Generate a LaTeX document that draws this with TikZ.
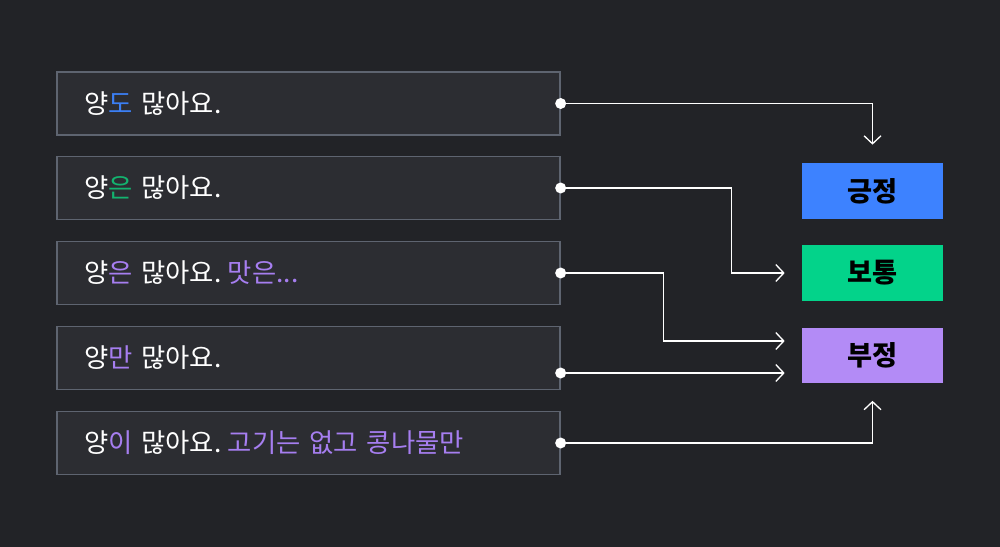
\documentclass[tikz,border=0pt]{standalone}
\usepackage{fontspec}
\setmainfont{Noto Sans CJK KR}
\usetikzlibrary{arrows.meta,positioning}
\definecolor{bg}{HTML}{222327}
\definecolor{boxfill}{HTML}{2C2D32}
\definecolor{boxline}{HTML}{5E6470}
\definecolor{posblue}{HTML}{3D82FF}
\definecolor{neugreen}{HTML}{03D38A}
\definecolor{negpurple}{HTML}{B38BF6}
\definecolor{hlblue}{HTML}{3B7FF5}
\definecolor{hlgreen}{HTML}{13B36F}
\definecolor{hlpurple}{HTML}{A67EF0}
\begin{document}
\begin{tikzpicture}[x=0.02cm,y=-0.02cm,
  sent/.style={draw=boxline,fill=boxfill,line width=0.8pt,minimum height=1.26cm,
    text width=8.98cm,inner xsep=0.54cm,align=left,text=white,font=\fontsize{15}{18}\selectfont},
  label/.style={minimum width=2.82cm,minimum height=1.12cm,inner sep=0pt,text=black,
    font=\fontsize{15.5}{18}\selectfont\bfseries},
  conn/.style={draw=white,line width=0.75pt,-{Straight Barb[length=0.16cm,width=0.34cm]}}]
	\fill[bg] (0,0) rectangle (1000,547);
	\useasboundingbox (0,0) rectangle (1000,547);
	% sentences
	\node[sent] (r1) at (308.5,103.5) {양\textcolor{hlblue}{도} 많아요.};
	\node[sent] (r2) at (308.5,188) {양\textcolor{hlgreen}{은} 많아요.};
	\node[sent] (r3) at (308.5,273) {양\textcolor{hlpurple}{은} 많아요.\hspace{-0.25em} \textcolor{hlpurple}{맛은...}};
	\node[sent] (r4) at (308.5,358) {양\textcolor{hlpurple}{만} 많아요.};
	\node[sent] (r5) at (308.5,443) {양\textcolor{hlpurple}{이} 많아요.\hspace{-0.25em} \textcolor{hlpurple}{고기는 없고 콩나물만}};
	% labels
	\node[label,fill=posblue] (pos) at (872.5,191) {긍정};
	\node[label,fill=neugreen] (neu) at (872.5,273) {보통};
	\node[label,fill=negpurple] (neg) at (872.5,355.5) {부정};
	\coordinate (nega) at (neg.west |- 0,341);
	\coordinate (negb) at (neg.west |- 0,373);
	% connectors
	\draw[conn,shorten >=0.36cm] (r1.east) -| (pos.north);
	\draw[conn,shorten >=0.34cm] (r2.east) -- ++(171,0) |- (neu.west);
	\draw[conn,shorten >=0.34cm] (r3.east) -- ++(103,0) |- (nega);
	\draw[conn,shorten >=0.34cm] (r4.east |- negb) -- (negb);
	\draw[conn,shorten >=0.34cm] (r5.east) -| (neg.south);
	\foreach \p in {(r1.east),(r2.east),(r3.east),(r4.east |- negb),(r5.east)}
		\fill[white] \p circle (0.11cm);
\end{tikzpicture}
\end{document}
